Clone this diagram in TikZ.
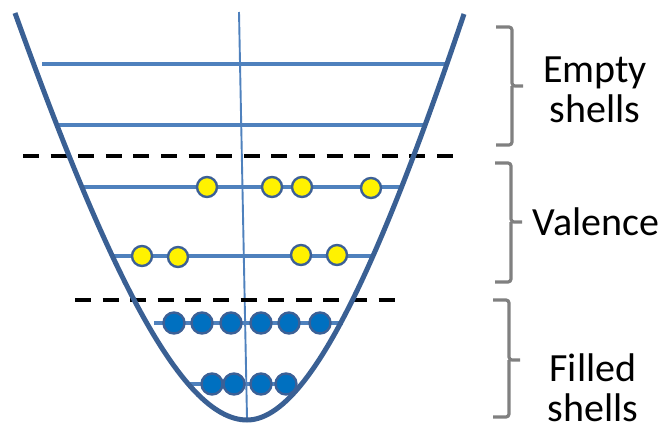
\documentclass[tikz,border=0pt]{standalone}
\usepackage{fontspec}
\setmainfont{Carlito}
\definecolor{bowl}{RGB}{58,96,148}
\definecolor{lvl}{RGB}{79,129,189}
\definecolor{efill}{RGB}{0,112,192}
\definecolor{eedge}{RGB}{60,96,150}
\definecolor{brk}{RGB}{128,128,128}
\begin{document}
\begin{tikzpicture}[x=1pt,y=-1pt,
  bowlline/.style={draw=bowl,line width=5pt},
  level/.style={draw=lvl,line width=3.6pt},
  axisline/.style={draw=lvl,line width=1.9pt},
  sep/.style={draw=black,line width=3.8pt,dash pattern=on 16pt off 11.6pt},
  yel/.style={circle,fill=yellow,draw=eedge,line width=2.4pt,minimum size=20pt,inner sep=0pt},
  blu/.style={circle,fill=efill,draw=eedge,line width=2.4pt,minimum size=21pt,inner sep=0pt},
  bracket/.style={draw=brk,line width=3.2pt,rounded corners=3pt},
  lbl/.style={align=center,font=\fontsize{40}{40}\selectfont,inner sep=0pt}]
\useasboundingbox (0,0) rectangle (669,431);
% axis
\coordinate (ax1) at (239,12);
\coordinate (ax2) at (247,418);
\draw[axisline] (ax1) -- (ax2);
% levels
\coordinate (l1a) at (42,64);  \coordinate (l1b) at (447,64);
\coordinate (l2a) at (57,125); \coordinate (l2b) at (425,125);
\coordinate (l3a) at (83,187); \coordinate (l3b) at (403,187);
\coordinate (l4a) at (112,256); \coordinate (l4b) at (373,256);
\coordinate (l5a) at (154,323); \coordinate (l5b) at (343,323);
\coordinate (l6a) at (187,384); \coordinate (l6b) at (297,384);
\foreach \i in {1,...,6}{\draw[level] (l\i a) -- (l\i b);}
% separators
\coordinate (d1a) at (23,156); \coordinate (d1b) at (454,156);
\coordinate (d2a) at (75,300); \coordinate (d2b) at (396,300);
\draw[sep] (d1a) -- (d1b);
\draw[sep] (d2a) -- (d2b);
% bowl
\coordinate (bl) at (15,13);
\coordinate (bb) at (247,420);
\coordinate (br) at (464,14);
\draw[bowlline] (bl) .. controls (105,263) and (180,420) .. (bb)
                     .. controls (309,420) and (380,263) .. (br);
% valence electrons
\node[yel] (y1) at (207,187) {};
\node[yel] (y2) at (272,187) {};
\node[yel] (y3) at (302,187) {};
\node[yel] (y4) at (371,188) {};
\node[yel] (y5) at (142,256) {};
\node[yel] (y6) at (178,257) {};
\node[yel] (y7) at (301,255) {};
\node[yel] (y8) at (337,255) {};
% filled electrons
\foreach \x [count=\k] in {174,202,231,261,289,320}{\node[blu] (f\k) at (\x,323) {};}
\foreach \x [count=\k] in {212,234,261,286}{\node[blu] (g\k) at (\x,384) {};}
% brackets
\draw[bracket] (496,27) -- (512,27) -- (512,86) -- (523,86) (512,86) -- (512,145) -- (496,145);
\draw[bracket] (495,163) -- (511,163) -- (511,222) -- (522,222) (511,222) -- (511,282) -- (495,282);
\draw[bracket] (493,300) -- (509,300) -- (509,360) -- (520,360) (509,360) -- (509,417) -- (493,417);
% labels
\node[lbl] (t1) at (595,90) {Empty\\shells};
\node[lbl] (t2) at (596,222) {Valence};
\node[lbl] (t3) at (593,388) {Filled\\shells};
\end{tikzpicture}
\end{document}
